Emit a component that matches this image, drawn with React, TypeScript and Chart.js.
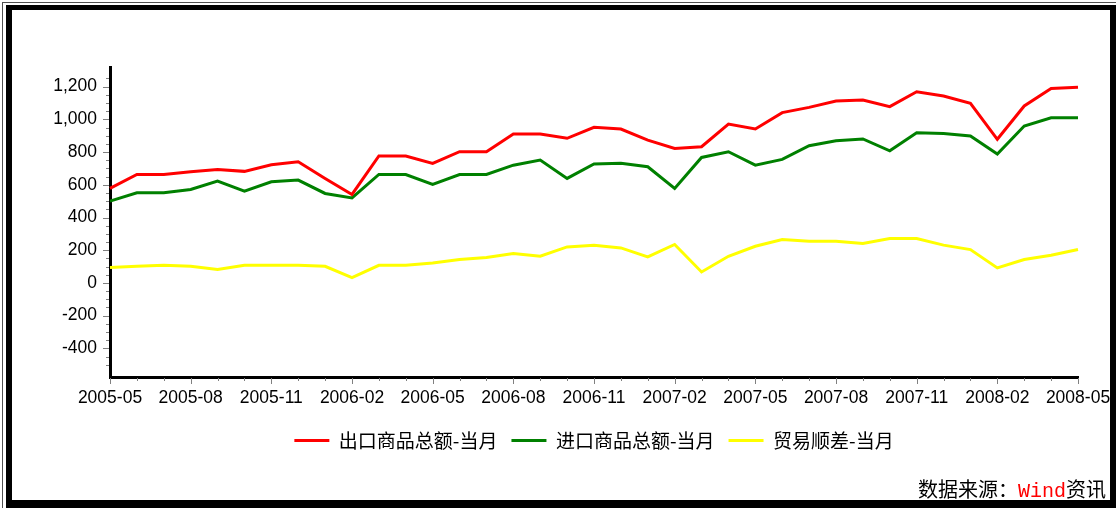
import React, { useEffect, useRef } from "react";
import { Chart, registerables } from "chart.js";

Chart.register(...registerables);

const months = [
  "2005-05", "2005-06", "2005-07", "2005-08", "2005-09", "2005-10", "2005-11", "2005-12",
  "2006-01", "2006-02", "2006-03", "2006-04", "2006-05", "2006-06", "2006-07", "2006-08",
  "2006-09", "2006-10", "2006-11", "2006-12", "2007-01", "2007-02", "2007-03", "2007-04",
  "2007-05", "2007-06", "2007-07", "2007-08", "2007-09", "2007-10", "2007-11", "2007-12",
  "2008-01", "2008-02", "2008-03", "2008-04", "2008-05",
];

const exportVals = [
  578, 663, 663, 680, 694, 682, 722, 741, 639, 541, 776, 776, 731, 802, 802, 910,
  910, 884, 951, 941, 873, 822, 833, 971, 941, 1041, 1073, 1112, 1118, 1078, 1169, 1143,
  1098, 878, 1082, 1188, 1196,
];

const importVals = [
  500, 551, 551, 571, 622, 561, 618, 629, 547, 520, 663, 663, 602, 663, 663, 720,
  751, 639, 727, 731, 710, 578, 767, 802, 720, 755, 839, 869, 880, 808, 918, 914,
  898, 788, 959, 1010, 1010,
];

const surplusVals = [
  94, 102, 108, 102, 82, 108, 108, 108, 102, 33, 108, 108, 122, 143, 155, 180,
  163, 220, 231, 214, 159, 235, 67, 163, 224, 265, 255, 255, 241, 271, 271, 231,
  204, 92, 143, 169, 204,
];

const seriesNames = ["出口商品总额-当月", "进口商品总额-当月", "贸易顺差-当月"];
const seriesColors = ["#FF0000", "#008000", "#FFFF00"];

const Y_MIN = -575;
const Y_MAX = 1320;
const Y_STEP = 50;
const Y_LABEL_STEP = 200;
const X_LABEL_EVERY = 3;

const tickFont = { family: "'Liberation Sans', Arial, sans-serif", size: 17.5 };
const legendFont = { family: "'Noto Sans CJK SC', sans-serif", size: 19 };

const axisTicksPlugin = {
  id: "axisTicks",
  afterDraw(chart: any) {
    const { ctx, chartArea } = chart;
    const x = chart.scales.x;
    const y = chart.scales.y;
    ctx.save();
    ctx.strokeStyle = "#808080";
    ctx.lineWidth = 1;
    y.ticks.forEach((t: any) => {
      if (t.value % Y_STEP !== 0) return;
      const py = Math.round(y.getPixelForValue(t.value)) + 0.5;
      const len = t.value % Y_LABEL_STEP === 0 ? 6 : 3;
      ctx.beginPath();
      ctx.moveTo(chartArea.left - 1 - len, py);
      ctx.lineTo(chartArea.left - 1, py);
      ctx.stroke();
    });
    months.forEach((_m, i) => {
      const px = Math.round(x.getPixelForValue(i)) + 0.5;
      const len = i % X_LABEL_EVERY === 0 ? 6 : 3;
      ctx.beginPath();
      ctx.moveTo(px, chartArea.bottom + 1);
      ctx.lineTo(px, chartArea.bottom + 1 + len);
      ctx.stroke();
    });
    ctx.restore();
  },
};

export default function App() {
  const canvasRef = useRef<HTMLCanvasElement | null>(null);

  useEffect(() => {
    if (!canvasRef.current) return;
    const values = [exportVals, importVals, surplusVals];
    const chart = new Chart(canvasRef.current, {
      type: "line",
      data: {
        labels: months,
        datasets: values.map((v, k) => ({
          label: seriesNames[k],
          data: v,
          borderColor: seriesColors[k],
          backgroundColor: seriesColors[k],
          borderWidth: 3,
          pointRadius: 0,
          tension: 0,
          fill: false,
        })),
      },
      options: {
        animation: false,
        responsive: false,
        devicePixelRatio: 1,
        layout: { padding: { left: 20, right: 38, top: 67, bottom: 48 } },
        plugins: {
          tooltip: { enabled: false },
          legend: {
            position: "bottom",
            fullSize: false,
            labels: {
              font: legendFont,
              color: "#000",
              boxWidth: 35,
              boxHeight: 3,
              padding: 14,
              generateLabels: (c: any) =>
                (Chart.defaults.plugins.legend.labels as any)
                  .generateLabels(c)
                  .map((l: any) => ({ ...l, lineWidth: 0, fillStyle: l.strokeStyle })),
            },
          },
        },
        scales: {
          x: {
            type: "category",
            offset: false,
            grid: { drawOnChartArea: false, drawTicks: true, tickLength: 6, color: "rgba(0,0,0,0)" },
            border: { display: true, color: "#000", width: 3 },
            ticks: {
              autoSkip: false,
              maxRotation: 0,
              minRotation: 0,
              padding: 5,
              color: "#000",
              font: tickFont,
              callback: (_v: any, i: number) => (i % X_LABEL_EVERY === 0 ? months[i] : ""),
            },
            afterFit: (s: any) => {
              s.height = 40;
            },
          },
          y: {
            type: "linear",
            min: Y_MIN,
            max: Y_MAX,
            grid: { drawOnChartArea: false, drawTicks: true, tickLength: 6, color: "rgba(0,0,0,0)" },
            border: { display: true, color: "#000", width: 3 },
            ticks: {
              stepSize: Y_STEP,
              autoSkip: false,
              padding: 7,
              color: "#000",
              font: tickFont,
              callback: (v: any) =>
                Number(v) % Y_LABEL_STEP === 0 ? Number(v).toLocaleString("en-US") : "",
            },
            afterFit: (s: any) => {
              s.width = 90;
            },
          },
        },
      },
      plugins: [axisTicksPlugin],
    });
    return () => chart.destroy();
  }, []);

  return (
    <div style={{ position: "fixed", left: 0, top: 0, width: 1116, height: 508, background: "#fff", overflow: "hidden" }}>
      <div
        style={{
          position: "absolute",
          left: 2,
          top: 2,
          width: 1130,
          height: 520,
          borderLeft: "1px solid #505050",
          borderTop: "1px solid #505050",
        }}
      />
      <div
        style={{
          position: "absolute",
          left: 6,
          top: 5,
          width: 1098,
          height: 490,
          borderLeft: "6px solid #000",
          borderTop: "5px solid #000",
          borderRight: "6px solid #000",
          borderBottom: "8px solid #000",
        }}
      />
      <canvas
        ref={canvasRef}
        width={1116}
        height={508}
        style={{ position: "absolute", left: 0, top: 0, width: 1116, height: 508 }}
      />
      <div
        style={{
          position: "absolute",
          left: 918,
          top: 478,
          height: 22,
          lineHeight: "22px",
          fontSize: 20,
          fontFamily: "'Noto Sans CJK SC', sans-serif",
          color: "#000",
          whiteSpace: "nowrap",
        }}
      >
        数据来源：<span style={{ color: "#FF0000", fontFamily: "'Liberation Mono', monospace" }}>Wind</span>资讯
      </div>
    </div>
  );
}
